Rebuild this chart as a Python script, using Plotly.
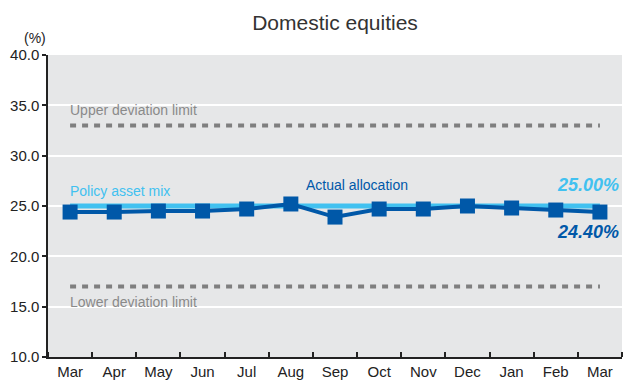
import plotly.graph_objects as go

months = ["Mar", "Apr", "May", "Jun", "Jul", "Aug", "Sep", "Oct", "Nov", "Dec", "Jan", "Feb", "Mar"]
actual = [24.4, 24.4, 24.5, 24.5, 24.7, 25.2, 23.9, 24.7, 24.7, 25.0, 24.8, 24.6, 24.4]
policy = [25.0] * 13
upper_limit = [33.0] * 13
lower_limit = [17.0] * 13
yticks = [10, 15, 20, 25, 30, 35, 40]

xs = list(range(len(months)))

DARK = "#0058a8"
LIGHT = "#41c1f0"
GREY = "#7f7f7f"
FONT = "Liberation Sans"

fig = go.Figure()
fig.add_trace(go.Scatter(x=xs, y=upper_limit, mode="lines",
                         line=dict(color=GREY, width=4, dash="6px,6px"), hoverinfo="skip"))
fig.add_trace(go.Scatter(x=xs, y=lower_limit, mode="lines",
                         line=dict(color=GREY, width=4, dash="6px,6px"), hoverinfo="skip"))
fig.add_trace(go.Scatter(x=xs, y=policy, mode="lines",
                         line=dict(color=LIGHT, width=5)))
fig.add_trace(go.Scatter(x=xs, y=actual, mode="lines+markers",
                         line=dict(color=DARK, width=4),
                         marker=dict(symbol="square", size=15, color=DARK)))

anns = [
    dict(text="Upper deviation limit", x=0, y=upper_limit[0], xref="x", yref="y",
         xanchor="left", yanchor="middle", yshift=15, xshift=-2,
         font=dict(size=14, color="#8a8a8a", family=FONT), showarrow=False),
    dict(text="Lower deviation limit", x=0, y=lower_limit[0], xref="x", yref="y",
         xanchor="left", yanchor="middle", yshift=-15, xshift=-2,
         font=dict(size=14, color="#8a8a8a", family=FONT), showarrow=False),
    dict(text="Policy asset mix", x=0, y=policy[0], xref="x", yref="y",
         xanchor="left", yanchor="middle", yshift=15, xshift=-2,
         font=dict(size=14, color=LIGHT, family=FONT), showarrow=False),
    dict(text="Actual allocation", x=5.3, y=policy[5], xref="x", yref="y",
         xanchor="left", yanchor="middle", yshift=21,
         font=dict(size=14, color=DARK, family=FONT), showarrow=False),
    dict(text="<b><i>25.00%</i></b>", x=1, y=policy[-1], xref="paper", yref="y",
         xanchor="right", yanchor="middle", yshift=21, xshift=-1,
         font=dict(size=18, color=LIGHT, family=FONT), showarrow=False),
    dict(text="<b><i>24.40%</i></b>", x=1, y=actual[-1], xref="paper", yref="y",
         xanchor="right", yanchor="middle", yshift=-20, xshift=-1,
         font=dict(size=18, color=DARK, family=FONT), showarrow=False),
    dict(text="(%)", x=0, y=1, xref="paper", yref="paper",
         xanchor="right", yanchor="bottom", xshift=0, yshift=7,
         font=dict(size=14, color="#222", family=FONT), showarrow=False),
]

fig.update_layout(
    width=629, height=381,
    margin=dict(l=48, r=7, t=55, b=24, autoexpand=False),
    paper_bgcolor="white",
    plot_bgcolor="#e6e7e8",
    showlegend=False,
    font=dict(family=FONT, color="#222", size=15),
    title=dict(text="Domestic equities", x=0.5, xref="paper", xanchor="center",
               y=0.94, yref="container", yanchor="middle",
               font=dict(size=21, color="#333", family=FONT)),
    annotations=anns,
    xaxis=dict(range=[-0.5, len(months) - 0.5], tickvals=xs, ticktext=months,
               ticks="", showgrid=False, zeroline=False, automargin=False,
               showline=True, linecolor="#222", linewidth=1.5,
               tickfont=dict(size=15, color="#222"),
               minor=dict(tickvals=[i + 0.5 for i in range(-1, len(months))],
                          ticks="inside", ticklen=5, tickcolor="#222", tickwidth=1.5,
                          showgrid=False)),
    yaxis=dict(range=[10, 40], tickvals=yticks, tickformat=".1f",
               ticks="outside", ticklen=4, tickcolor="#222", tickwidth=1.5,
               showgrid=True, gridcolor="white", gridwidth=2, zeroline=False,
               automargin=False,
               showline=True, linecolor="#222", linewidth=1.5,
               tickfont=dict(size=15, color="#222")),
)

fig.write_html("out.html", config={"displayModeBar": False},
               post_script="document.body.style.margin='0';document.body.style.overflow='hidden';")
